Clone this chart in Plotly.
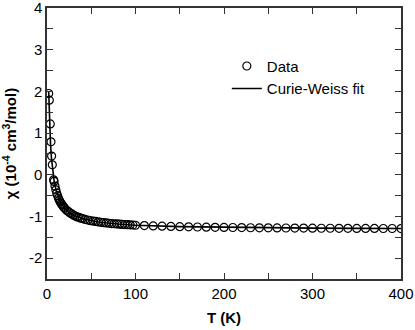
import plotly.graph_objects as go

# Measured data (T in K, chi in 1e-4 cm^3/mol)
data_T = [1.9, 2.6, 3.7, 4.5, 5.2, 6.0,
          7.5, 8, 9, 10, 11, 12, 13, 14, 15, 16, 17, 18, 19, 20,
          22, 24, 26, 28, 30, 32, 34, 36, 38, 40, 43, 46, 49, 52, 55, 58,
          61, 64, 67, 70, 73, 76, 79, 82, 85, 88, 91, 94, 97, 100,
          110, 120, 130, 140, 150, 160, 170, 180, 190, 200, 210, 220, 230,
          240, 250, 260, 270, 280, 290, 300, 310, 320, 330, 340, 350, 360,
          370, 380, 390, 400]
data_chi = [1.95, 1.79, 1.22, 0.79, 0.45, 0.24,
            -0.12, -0.16, -0.27, -0.36, -0.44, -0.50, -0.56, -0.61, -0.65, -0.69, -0.72, -0.75, -0.78, -0.80,
            -0.85, -0.88, -0.915, -0.94, -0.97, -0.99, -1.01, -1.02, -1.04, -1.05, -1.07, -1.085, -1.10, -1.11, -1.12, -1.13,
            -1.14, -1.15, -1.156, -1.163, -1.17, -1.175, -1.18, -1.185, -1.19, -1.194, -1.198, -1.20, -1.205, -1.21,
            -1.218, -1.226, -1.233, -1.239, -1.244, -1.249, -1.253, -1.256, -1.26, -1.262, -1.265, -1.267, -1.27,
            -1.272, -1.273, -1.275, -1.277, -1.278, -1.279, -1.28, -1.282, -1.283, -1.284, -1.285, -1.286, -1.287,
            -1.287, -1.288, -1.289, -1.29]

# Curie-Weiss fit curve (sampled values)
fit_T = [1.9, 2.5, 3, 4, 5, 6, 7, 8, 10, 12, 15, 20, 25, 30, 40, 50, 60, 80,
         100, 150, 200, 250, 300, 350, 400]
fit_chi = [2.0, 1.53, 1.20, 0.73, 0.41, 0.18, 0.0, -0.14, -0.35, -0.49, -0.645, -0.80,
           -0.90, -0.97, -1.05, -1.10, -1.14, -1.18, -1.21, -1.244, -1.262, -1.273,
           -1.28, -1.286, -1.29]

x_ticks = [0, 100, 200, 300, 400]
y_ticks = [-2, -1, 0, 1, 2, 3, 4]

FONT = "Liberation Sans, Arial, Helvetica, sans-serif"
FS = 15

fig = go.Figure()
fig.add_trace(go.Scatter(
    x=data_T, y=data_chi, mode="markers", name="Data",
    marker=dict(symbol="circle-open", size=8, color="black", line=dict(width=1.2)),
))
fig.add_trace(go.Scatter(
    x=fit_T, y=fit_chi, mode="lines", name="Curie-Weiss fit",
    line=dict(color="black", width=1.6),
))

axis_common = dict(
    showline=True, linecolor="#333", linewidth=1.5, mirror="ticks",
    ticks="inside", ticklen=6, tickcolor="#333", tickwidth=1.2,
    showgrid=False, zeroline=False, automargin=False,
    ticklabeloverflow="allow",
    tickfont=dict(family=FONT, size=FS, color="black"),
)

fig.update_xaxes(
    range=[0, 400.001], tickmode="array", tickvals=x_ticks,
    ticktext=[str(v) for v in x_ticks],
    minor=dict(ticks="inside", dtick=50, ticklen=6, tickcolor="#333", tickwidth=1.2),
    title=dict(text="<b>T (K)</b>", font=dict(family=FONT, size=FS, color="black"), standoff=12),
    **axis_common,
)
fig.update_yaxes(
    range=[-2.5, 4.001], tickmode="array", tickvals=y_ticks,
    ticktext=[str(v) for v in y_ticks],
    minor=dict(ticks="inside", dtick=0.5, ticklen=6, tickcolor="#333", tickwidth=1.2),
    title=dict(text="<b>χ (10<sup>-4</sup> cm<sup>3</sup>/mol)</b>",
               font=dict(family=FONT, size=FS, color="black"), standoff=10),
    **axis_common,
)

fig.update_layout(
    width=415, height=330,
    margin=dict(l=47, r=14, t=8, b=51),
    paper_bgcolor="white", plot_bgcolor="white",
    showlegend=True,
    legend=dict(x=0.508, y=0.846, xanchor="left", yanchor="top",
                bgcolor="rgba(0,0,0,0)", font=dict(family=FONT, size=FS, color="black"),
                itemwidth=30, tracegroupgap=0),
    font=dict(family=FONT),
)

fig.write_html("out.html",
               config={"displayModeBar": False},
               post_script="document.body.style.margin='0px';document.body.style.padding='0px';")
